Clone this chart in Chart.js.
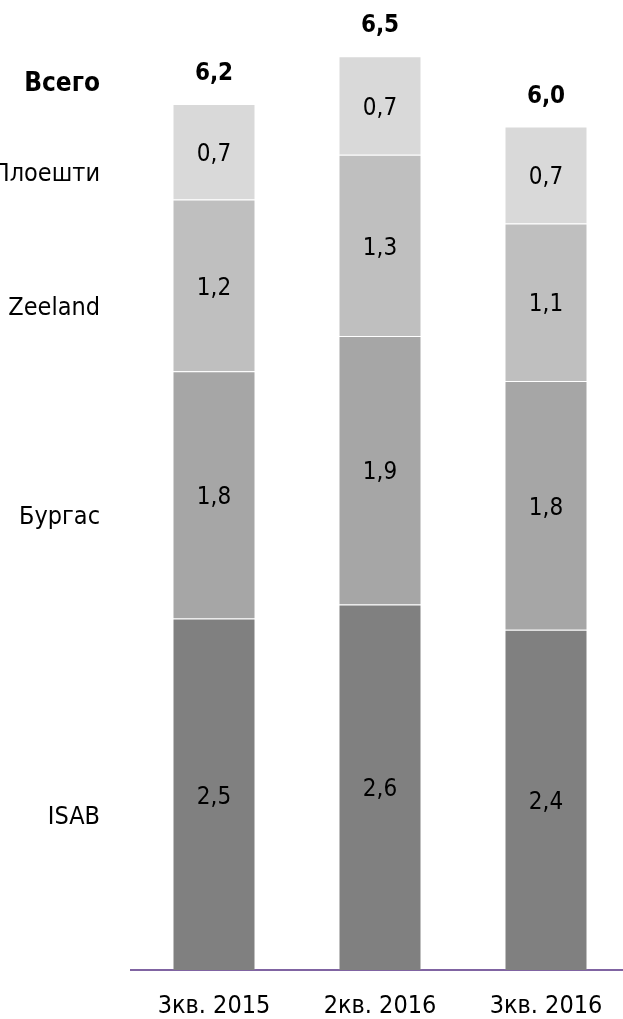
<!DOCTYPE html>
<html lang="ru">
<head>
<meta charset="utf-8">
<script src="https://cdn.jsdelivr.net/npm/chart.js@4"></script>
<style>
  html, body { margin: 0; padding: 0; background: #fff; overflow: hidden; }
  #wrap { width: 629px; height: 1019px; }
</style>
</head>
<body>
<div id="wrap"><canvas id="myChart" width="629" height="1019"></canvas></div>
<script>
// Данные
const periods = ["3кв. 2015", "2кв. 2016", "3кв. 2016"];
const seriesNames = ["ISAB", "Бургас", "Zeeland", "Плоешти"];
const isab = [2.50, 2.60, 2.42];
const burgas = [1.76, 1.91, 1.77];
const zeeland = [1.22, 1.29, 1.12];
const ploesti = [0.68, 0.70, 0.69];
const totals = [6.2, 6.5, 6.0];
const totalLabel = "Всего";

const colors = ["#808080", "#a6a6a6", "#bfbfbf", "#d9d9d9"];
const fontFamily = "'DejaVu Sans Condensed', 'DejaVu Sans', sans-serif";

const chartDom = document.getElementById("myChart");

// число с запятой
function fmt(v) {
  return v.toFixed(1).replace(".", ",");
}

// подписи внутри столбцов, итоги и названия слева
const labelsPlugin = {
  id: "labelsPlugin",
  afterDatasetsDraw(chart) {
    const ctx = chart.ctx;
    const yScale = chart.scales.y;
    ctx.save();
    ctx.textAlign = "center";
    ctx.textBaseline = "middle";
    ctx.fillStyle = "#000";

    // значения в сегментах
    ctx.font = "24px " + fontFamily;
    chart.data.datasets.forEach((ds, i) => {
      const meta = chart.getDatasetMeta(i);
      meta.data.forEach((bar, j) => {
        const mid = (bar.y + bar.base) / 2;
        ctx.fillText(fmt(ds.data[j]), bar.x, mid + 3);
      });
    });

    // итоги над столбцами
    ctx.font = "bold 24px " + fontFamily;
    const last = chart.getDatasetMeta(chart.data.datasets.length - 1);
    totals.forEach((t, j) => {
      const bar = last.data[j];
      ctx.fillText(fmt(t), bar.x, bar.y - 30);
    });

    // названия рядов слева (по первому столбцу)
    ctx.textAlign = "right";
    ctx.font = "25px " + fontFamily;
    let acc = 0;
    chart.data.datasets.forEach((ds) => {
      const v = ds.data[0];
      const mid = yScale.getPixelForValue(acc + v / 2);
      ctx.fillText(ds.label, 100, mid + 23);
      acc += v;
    });
    ctx.font = "bold 26px " + fontFamily;
    ctx.fillText(totalLabel, 100, last.data[0].y - 20);
    ctx.restore();
  },
};

const seriesValues = [isab, burgas, zeeland, ploesti];
const datasets = seriesValues.map((data, i) => ({
  label: seriesNames[i],
  data: data,
  backgroundColor: colors[i],
  borderColor: "rgba(255,255,255,0.15)",
  borderWidth: 1,
  borderSkipped: "bottom",
  categoryPercentage: 1,
  barPercentage: 0.5,
}));

const myChart = new Chart(chartDom, {
  type: "bar",
  data: { labels: periods, datasets },
  options: {
    responsive: false,
    animation: false,
    devicePixelRatio: 1,
    layout: { padding: { left: 131, right: 0, top: 0, bottom: 0 } },
    plugins: {
      legend: { display: false },
      tooltip: { enabled: false },
    },
    scales: {
      x: {
        stacked: true,
        grid: { display: false, drawTicks: false },
        border: { display: true, color: "#8064a2", width: 2 },
        ticks: {
          color: "#000",
          padding: 21,
          font: { family: fontFamily, size: 25 },
        },
        afterFit(scale) {
          scale.height = 49;
        },
      },
      y: {
        stacked: true,
        display: false,
        min: 0,
        max: 6.9,
      },
    },
  },
  plugins: [labelsPlugin],
});
</script>
</body>
</html>
